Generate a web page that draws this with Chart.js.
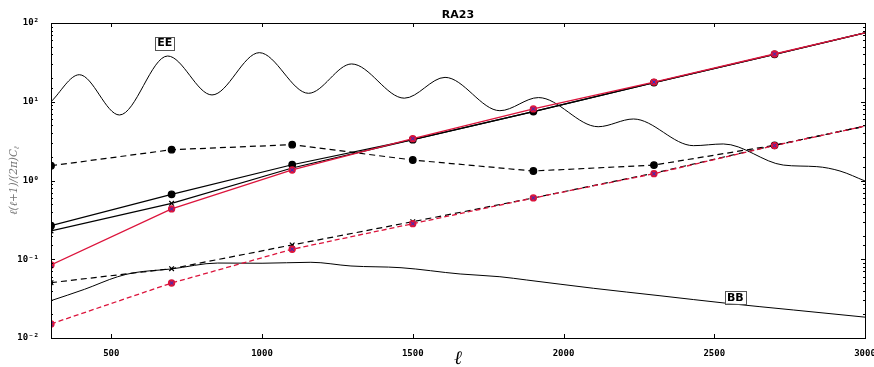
<!DOCTYPE html>
<html>
<head>
<meta charset="utf-8">
<script src="https://cdn.jsdelivr.net/npm/chart.js@4/dist/chart.umd.min.js"></script>
<style>
  html, body { margin:0; padding:0; background:#fff; }
  #wrap { width:874px; height:367px; }
</style>
</head>
<body>
<div id="wrap"><canvas id="chart" width="874" height="367"></canvas></div>
<script>
// multipole bins where the noise curves are sampled
const ell = [300, 700, 1100, 1500, 1900, 2300, 2700, 3000];

// solid: EE noise
const eeNoiseDot = [0.267, 0.668, 1.585, 3.3, 7.5, 17.5, 40, 75];
const eeNoiseX   = [0.229, 0.513, 1.44, 3.3, 7.5, 17.5, 40, 75];
const eeNoiseRed = [0.0845, 0.435, 1.36, 3.4, 8.1, 17.8, 40.4, 75];

// dashed: BB noise
const bbNoiseDot = [1.54, 2.46, 2.85, 1.82, 1.32, 1.57, 2.8, 4.9];
const bbNoiseX   = [0.0504, 0.076, 0.152, 0.30, 0.60, 1.24, 2.8, 4.9];
const bbNoiseRed = [0.0151, 0.0499, 0.134, 0.283, 0.60, 1.22, 2.78, 4.9];

// theory spectra (peaks / troughs)
const eeEll = [300, 394, 527, 687, 834, 991, 1154, 1297, 1472, 1607, 1789, 1917, 2115, 2232,
               2431, 2530, 2729, 2840, 2917, 3000];
const eeCl  = [10.0, 22.05, 6.79, 38.1, 12.2, 42.0, 12.8, 30.2, 11.1, 20.4, 7.7, 11.3, 4.82, 6.04,
               2.77, 2.91, 1.57, 1.50, 1.32, 0.986];
const bbEll = [300, 411, 521, 576, 698, 853, 1000, 1162, 1295, 1461, 1657, 1789, 1878,
               2099, 2320, 2541, 2762, 3000];
const bbCl  = [0.0298, 0.0415, 0.060, 0.0675, 0.0752, 0.0895, 0.089, 0.0915, 0.0821,
               0.0781, 0.065, 0.060, 0.0545, 0.0428, 0.0344, 0.0276, 0.0227, 0.0184];

const yTicks = [0.01, 0.1, 1, 10, 100];
const xTicks = [500, 1000, 1500, 2000, 2500, 3000];

const labels = [
  { text: "EE", x: 677, y: 55.7 },
  { text: "BB", x: 2570, y: 0.033 }
];

function pts(xs, ys){ return xs.map((x, i) => ({ x: x, y: ys[i] })); }
function radii(r){ return ell.map((v, i) => i === ell.length - 1 ? 0 : r); }

const RED = "#dc143c";
const BLUE = "#2233cc";

const sup = { "-": "\u207B", "0": "\u2070", "1": "\u00B9", "2": "\u00B2" };

/* ================= DECORATIONS ================= */

const decor = {
  id: "decor",
  afterDraw(chart){
    const c = chart.ctx, a = chart.chartArea;
    const xs = chart.scales.x, ys = chart.scales.y;
    c.save();
    c.strokeStyle = "#000";
    c.lineWidth = 1;
    c.strokeRect(a.left + 0.5, a.top + 0.5, a.right - a.left, a.bottom - a.top);

    // inward ticks
    c.beginPath();
    xTicks.forEach(v => {
      const px = Math.round(xs.getPixelForValue(v)) + 0.5;
      c.moveTo(px, a.bottom); c.lineTo(px, a.bottom - 4);
      c.moveTo(px, a.top); c.lineTo(px, a.top + 4);
    });
    ys.ticks.forEach(t => {
      const l = Math.log10(t.value);
      const major = Math.abs(l - Math.round(l)) < 1e-6;
      const len = major ? 4 : 2;
      const py = Math.round(ys.getPixelForValue(t.value)) + 0.5;
      c.moveTo(a.left, py); c.lineTo(a.left + len, py);
      c.moveTo(a.right, py); c.lineTo(a.right - len, py);
    });
    c.stroke();

    // title
    c.fillStyle = "#000";
    c.font = "bold 11px 'DejaVu Sans'";
    c.textAlign = "center";
    c.textBaseline = "middle";
    c.fillText("RA23", (a.left + a.right) / 2, 15);

    // x label
    c.font = "italic 19px 'DejaVu Serif'";
    c.fillText("\u2113", (a.left + a.right) / 2, 359);

    // y label
    c.save();
    c.translate(14, (a.top + a.bottom) / 2);
    c.rotate(-Math.PI / 2);
    c.fillStyle = "#777";
    c.font = "italic 10.5px 'DejaVu Serif'";
    const main = "\u2113(\u2113+1)/(2\u03C0)C";
    const w1 = c.measureText(main).width;
    c.font = "italic 7px 'DejaVu Serif'";
    const w2 = c.measureText("\u2113").width;
    const x0 = -(w1 + w2) / 2;
    c.textAlign = "left";
    c.font = "italic 10.5px 'DejaVu Serif'";
    c.fillText(main, x0, 0);
    c.font = "italic 7px 'DejaVu Serif'";
    c.fillText("\u2113", x0 + w1, 3);
    c.restore();

    // boxed labels
    c.font = "bold 11px 'DejaVu Sans'";
    c.textAlign = "center";
    labels.forEach(lb => {
      const px = xs.getPixelForValue(lb.x), py = ys.getPixelForValue(lb.y);
      const w = c.measureText(lb.text).width + 4;
      c.fillStyle = "#fff";
      c.fillRect(px - w / 2, py - 6.5, w, 13);
      c.strokeStyle = "#555";
      c.strokeRect(Math.round(px - w / 2) + 0.5, Math.round(py - 6.5) + 0.5, Math.round(w), 13);
      c.fillStyle = "#000";
      c.fillText(lb.text, px, py + 0.5);
    });
    c.restore();
  }
};

/* ================= CHART ================= */

const ctx = document.getElementById("chart");

const dotSolid = { borderColor: "#000", backgroundColor: "#000", pointStyle: "circle", borderWidth: 1.2 };

new Chart(ctx, {
  type: "line",
  data: {
    datasets: [
      // blue crosses on the red series
      { data: pts(ell, eeNoiseRed), showLine: false, pointStyle: "crossRot", pointRadius: radii(2.5),
        pointBorderColor: BLUE, pointBorderWidth: 1 },
      { data: pts(ell, bbNoiseRed), showLine: false, pointStyle: "crossRot", pointRadius: radii(2.5),
        pointBorderColor: BLUE, pointBorderWidth: 1 },
      { data: pts(ell, eeNoiseRed), borderColor: RED, borderWidth: 1.3, pointStyle: "circle",
        pointRadius: radii(3), pointBackgroundColor: RED, pointBorderColor: RED },
      { data: pts(ell, bbNoiseRed), borderColor: RED, borderWidth: 1.3, borderDash: [5, 3],
        pointStyle: "circle", pointRadius: radii(3), pointBackgroundColor: RED, pointBorderColor: RED },
      { data: pts(ell, eeNoiseDot), ...dotSolid, pointRadius: radii(3.3) },
      { data: pts(ell, eeNoiseX), borderColor: "#000", borderWidth: 1.2, pointStyle: "crossRot",
        pointRadius: radii(3.3), pointBorderColor: "#000" },
      { data: pts(ell, bbNoiseDot), ...dotSolid, borderDash: [6, 4], pointRadius: radii(3.3) },
      { data: pts(ell, bbNoiseX), borderColor: "#000", borderWidth: 1.2, borderDash: [6, 4],
        pointStyle: "crossRot", pointRadius: radii(3.3), pointBorderColor: "#000" },
      { data: pts(eeEll, eeCl), borderColor: "#000", borderWidth: 1, pointRadius: 0,
        cubicInterpolationMode: "monotone" },
      { data: pts(bbEll, bbCl), borderColor: "#000", borderWidth: 1, pointRadius: 0,
        cubicInterpolationMode: "monotone" }
    ]
  },
  options: {
    responsive: false,
    animation: false,
    layout: { padding: { top: 23, right: 9, left: 0, bottom: 0 } },
    plugins: { legend: { display: false }, tooltip: { enabled: false } },
    scales: {
      x: {
        type: "linear", min: 300, max: 3000,
        grid: { display: false }, border: { display: false },
        afterBuildTicks: s => { s.ticks = xTicks.map(v => ({ value: v })); },
        afterFit: s => { s.height = 29; s.paddingLeft = 0; s.paddingRight = 0; },
        ticks: { color: "#000", font: { family: "DejaVu Sans Mono", size: 9, weight: "bold" },
                 maxRotation: 0, autoSkip: false, padding: 2, callback: v => String(v) }
      },
      y: {
        type: "logarithmic", min: 0.01, max: 100,
        grid: { display: false }, border: { display: false },
        afterFit: s => { s.width = 51; s.paddingTop = 0; s.paddingBottom = 0; },
        ticks: {
          color: "#000", font: { family: "DejaVu Sans Mono", size: 9, weight: "bold" },
          autoSkip: false, padding: 4,
          callback: v => {
            const l = Math.log10(v);
            if (Math.abs(l - Math.round(l)) > 1e-6) return "";
            return "10" + String(Math.round(l)).split("").map(ch => sup[ch]).join("");
          }
        }
      }
    }
  },
  plugins: [decor]
});
</script>
</body>
</html>
